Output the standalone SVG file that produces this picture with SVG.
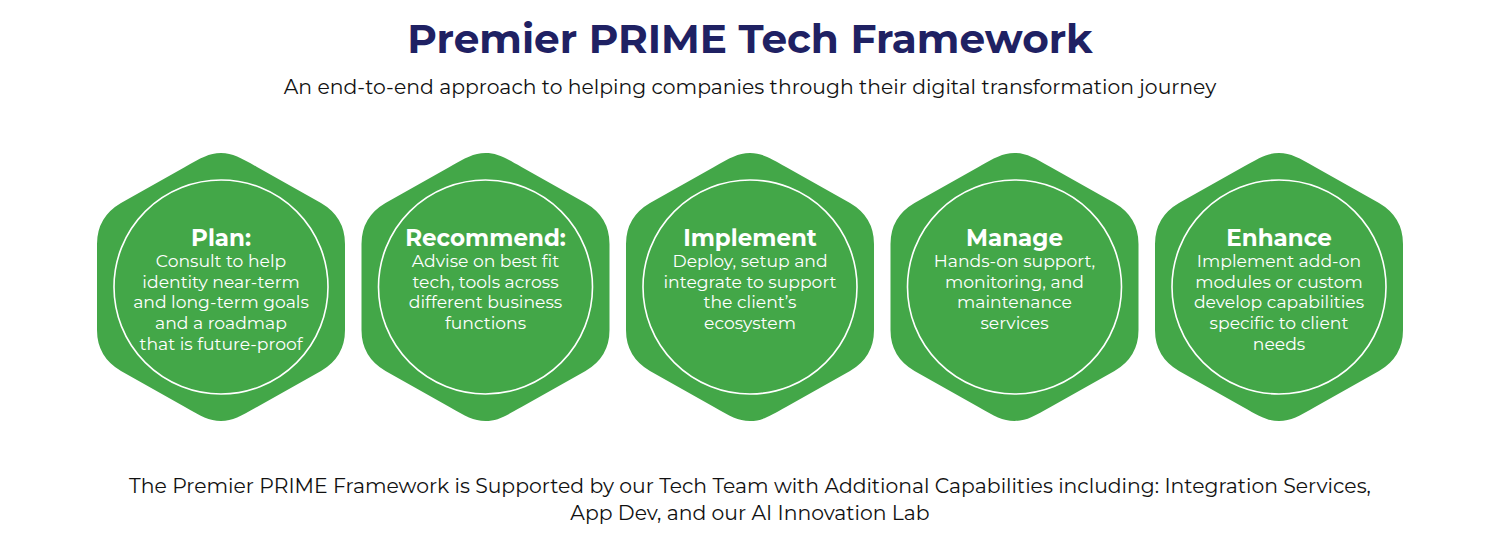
<svg xmlns="http://www.w3.org/2000/svg" width="1500" height="537" viewBox="0 0 1500 537">
<style>
text{font-family:Montserrat,"Open Sans","Noto Sans","Liberation Sans",sans-serif;text-anchor:middle}
.t{font-size:40.6px;font-weight:700;fill:#1f2163}
.s{font-size:20.35px;fill:#111}
.h{font-size:23px;font-weight:700;fill:#fff}
.b{font-size:17.2px;fill:#fff}
.hex{fill:#43a748}
.c{fill:none;stroke:#fff;stroke-width:1.6}
</style>
<defs>
<path id="hex" class="hex" d="M-36 -120C-20 -129 -12 -134 0 -134C12 -134 20 -129 36 -120L100 -84Q124 -70 124 -43V43Q124 70 100 84L36 120C20 129 12 134 0 134C-12 134 -20 129 -36 120L-100 84Q-124 70 -124 43V-43Q-124 -70 -100 -84Z"/>
</defs>
<rect width="1500" height="537" fill="#fff"/>
<g id="header">
<text class="t" x="750" y="53">Premier PRIME Tech Framework</text>
<text class="s" x="750" y="94">An end-to-end approach to helping companies through their digital transformation journey</text>
</g>
<g id="connectors"></g>
<g id="plan" transform="translate(221 287)"><use href="#hex"/><circle class="c" r="107"/>
<text class="h" y="-41">Plan:</text><text class="b" y="-20">Consult to help</text><text class="b" y="1">identity near-term</text><text class="b" y="21">and long-term goals</text><text class="b" y="42">and a roadmap</text><text class="b" y="63">that is future-proof</text></g>
<g id="recommend" transform="translate(485.500 287)"><use href="#hex"/><circle class="c" r="107"/>
<text class="h" y="-41">Recommend:</text><text class="b" y="-20">Advise on best fit</text><text class="b" y="1">tech, tools across</text><text class="b" y="21">different business</text><text class="b" y="42">functions</text></g>
<g id="implement" transform="translate(750 287)"><use href="#hex"/><circle class="c" r="107"/>
<text class="h" y="-41">Implement</text><text class="b" y="-20">Deploy, setup and</text><text class="b" y="1">integrate to support</text><text class="b" y="21">the client’s</text><text class="b" y="42">ecosystem</text></g>
<g id="manage" transform="translate(1014.500 287)"><use href="#hex"/><circle class="c" r="107"/>
<text class="h" y="-41">Manage</text><text class="b" y="-20">Hands-on support,</text><text class="b" y="1">monitoring, and</text><text class="b" y="21">maintenance</text><text class="b" y="42">services</text></g>
<g id="enhance" transform="translate(1279 287)"><use href="#hex"/><circle class="c" r="107"/>
<text class="h" y="-41">Enhance</text><text class="b" y="-20">Implement add-on</text><text class="b" y="1">modules or custom</text><text class="b" y="21">develop capabilities</text><text class="b" y="42">specific to client</text><text class="b" y="63">needs</text></g>
<g id="footer">
<text class="s" x="750" y="493">The Premier PRIME Framework is Supported by our Tech Team with Additional Capabilities including: Integration Services,</text>
<text class="s" x="750" y="520">App Dev, and our AI Innovation Lab</text>
</g>
</svg>
